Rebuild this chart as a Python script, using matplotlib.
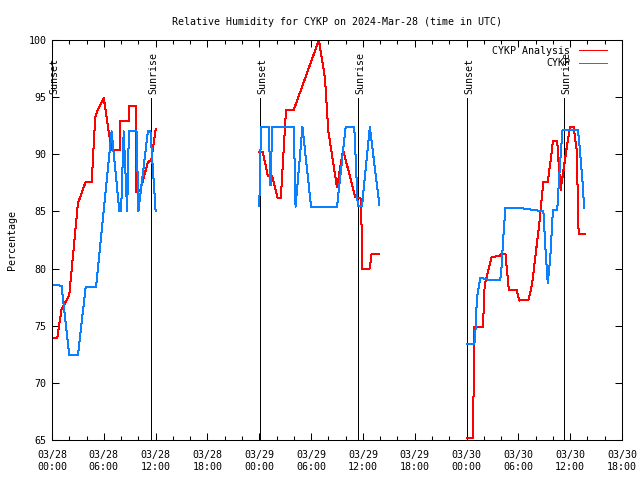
import numpy as np
import matplotlib
matplotlib.use("Agg")
import matplotlib.pyplot as plt

# hours since 2024-03-28 00:00 UTC
ana_h = [0, 0.6, 1.1, 2.0, 3.0, 3.9, 4.6, 5.0, 5.3, 6.0, 6.5, 6.9, 7.9, 7.9, 8.9, 8.9, 9.7, 9.7,
         10.2, 11.1, 11.5, 12.0,
         None,
         24.0, 24.4, 25.0, 25.5, 26.1, 26.5, 27.1, 28.0, 30.9, 31.6, 32.0, 33.0, 33.7, 35.1, 35.8,
         35.9, 36.8, 37.0, 37.9,
         None,
         48.0, 48.75, 48.9, 49.9, 50.1, 50.9, 51.8, 52.1, 52.5, 52.9, 53.8, 54.1, 55.2, 55.6,
         56.4, 56.9, 57.4, 57.8, 58.0, 58.5, 58.6, 58.9, 59.6, 60.0, 60.4, 60.8, 60.9, 61.0, 61.7]
ana_rh = [73.9, 73.9, 76.4, 77.7, 85.7, 87.6, 87.6, 93.2, 93.9, 94.9, 92.3, 90.4, 90.4, 92.9, 92.9,
          94.2, 94.2, 86.7, 86.8, 89.3, 89.5, 92.2,
          None,
          90.2, 90.2, 88.1, 88.1, 86.2, 86.2, 93.9, 93.9, 100.0, 96.7, 92.0, 87.1, 90.4, 86.3, 86.1,
          80.0, 80.0, 81.3, 81.3,
          None,
          65.2, 65.2, 74.9, 74.9, 78.6, 81.0, 81.1, 81.3, 81.3, 78.1, 78.1, 77.2, 77.3, 78.7,
          83.8, 87.6, 87.6, 89.8, 91.2, 91.2, 89.8, 86.9, 90.6, 92.4, 92.4, 90.1, 84.3, 83.0, 83.0]

obs_h = [0, 1.1, 2.0, 3.0, 3.9, 5.1, 6.9, 7.8, 8.0, 8.3, 8.7, 8.9, 9.8, 10.0, 11.1, 11.4, 12.0,
         None,
         24.0, 24.2, 25.1, 25.3, 25.5, 28.0, 28.2, 29.0, 30.0, 33.0, 34.0, 35.0, 35.4, 35.9, 36.8,
         37.9,
         None,
         48.0, 48.9, 49.0, 49.2, 49.6, 50.7, 51.9, 52.1, 52.2, 52.5, 54.2, 56.9, 57.1, 57.4, 57.7,
         58.0, 58.5, 58.8, 59.1, 60.0, 60.9, 61.1, 61.5, 61.6]
obs_rh = [78.6, 78.5, 72.4, 72.4, 78.4, 78.4, 92.0, 85.0, 85.0, 92.0, 85.0, 92.0, 92.0, 85.0, 92.0,
          92.0, 85.0,
          None,
          85.5, 92.4, 92.4, 87.3, 92.4, 92.4, 85.4, 92.4, 85.4, 85.4, 92.4, 92.4, 85.5, 85.5, 92.4,
          85.6,
          None,
          73.4, 73.4, 74.0, 77.4, 79.2, 79.0, 79.0, 80.5, 82.2, 85.3, 85.3, 85.0, 82.2, 78.7, 81.0,
          85.1, 85.1, 88.9, 92.1, 92.1, 92.1, 90.6, 86.9, 85.3]

sunset_h = [0.0, 24.08, 48.05]
sunrise_h = [11.46, 35.43, 59.3]

xtick_labels = ["03/28\n00:00", "03/28\n06:00", "03/28\n12:00", "03/28\n18:00",
                "03/29\n00:00", "03/29\n06:00", "03/29\n12:00", "03/29\n18:00",
                "03/30\n00:00", "03/30\n06:00", "03/30\n12:00", "03/30\n18:00"]


def to_arr(v):
    return np.array([np.nan if a is None else a for a in v], dtype=float)


plt.rcParams['font.family'] = ['DejaVu Sans Mono']
fs = 7.2
lw = 0.72

fig = plt.figure(figsize=(6.4, 4.8), dpi=100)
ax = fig.add_axes([52 / 640, 40 / 480, 570 / 640, 400 / 480])

for h in sunset_h + sunrise_h:
    ax.plot([h, h], [65, 94.9], color='black', lw=lw, antialiased=False)
for h in sunset_h:
    ax.text(h + 0.25, 95.3, "Sunset", rotation=90, ha='center', va='bottom', fontsize=fs)
for h in sunrise_h:
    ax.text(h + 0.25, 95.3, "Sunrise", rotation=90, ha='center', va='bottom', fontsize=fs)

ax.plot(to_arr(ana_h), to_arr(ana_rh), color='#ff0000', lw=lw, antialiased=False,
        label='CYKP Analysis')
ax.plot(to_arr(obs_h), to_arr(obs_rh), color='#0a80ff', lw=lw, antialiased=False,
        label='CYKP')

ax.set_xlim(0, 66)
ax.set_ylim(65, 100)
ax.set_xticks(np.arange(0, 67, 6))
ax.set_xticklabels(xtick_labels, fontsize=fs, linespacing=1.25)
ax.set_xticks(np.arange(0, 67, 2), minor=True)
ax.set_yticks(np.arange(65, 101, 5))
ax.set_yticklabels([str(v) for v in range(65, 101, 5)], fontsize=fs)
ax.tick_params(direction='in', top=True, right=True, length=5, width=0.75, pad=4)
ax.tick_params(axis='x', pad=7)
ax.tick_params(which='minor', direction='in', top=True, right=False, length=3, width=0.75)
for s in ax.spines.values():
    s.set_linewidth(0.75)

ax.set_ylabel("Percentage", fontsize=fs, labelpad=8)
ax.set_title("Relative Humidity for CYKP on 2024-Mar-28 (time in UTC)", fontsize=fs, pad=11)

leg = ax.legend(loc='upper right', frameon=False, fontsize=fs, markerfirst=False,
                handlelength=2.8, handletextpad=0.9, labelspacing=0.25,
                borderaxespad=0.2, bbox_to_anchor=(0.985, 1.0))

fig.savefig("out.png", dpi=100)
